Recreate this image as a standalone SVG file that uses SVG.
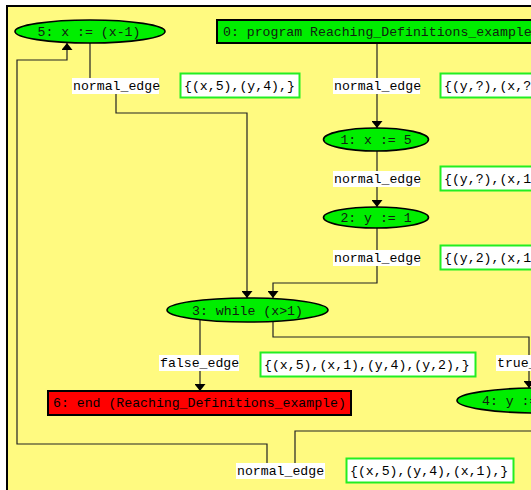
<svg xmlns="http://www.w3.org/2000/svg" width="531" height="490" viewBox="0 0 531 490">
<defs>
<marker id="arr" markerUnits="userSpaceOnUse" markerWidth="8" markerHeight="11" viewBox="0 0 7 11" refX="7" refY="5.5" orient="auto">
<path d="M0 0 L7 5.5 L0 11 Z" fill="#000"/>
</marker>
<style>
text{font-family:"Liberation Mono","DejaVu Sans Mono",monospace;font-size:13.2px;fill:#000}
.ell{fill:#00ee00;stroke:#000;stroke-width:1.6}
.box{fill:#00ee00;stroke:#000;stroke-width:2}
.edge{fill:none;stroke:#222;stroke-width:1.2;marker-end:url(#arr)}
.lbl{fill:#fff}
.set{fill:#fff;stroke:#22ee22;stroke-width:2}
.nt{fill:#102010}
</style>
</defs>
<rect x="0" y="0" width="531" height="490" fill="#fff"/>
<rect x="7" y="6" width="540" height="500" fill="#fffa80" stroke="#000" stroke-width="2"/>
<g id="connectors">
<path class="edge" d="M377 43 V128"/>
<path class="edge" d="M377 151 V207"/>
<path class="edge" d="M377 228 V283 H273 V298"/>
<path class="edge" d="M200 320 V391"/>
<path class="edge" d="M273 321 V337 H529 V388"/>
<path class="edge" d="M90 43 V86 M116 93 V113 H247 V298"/>
<path class="edge" d="M540 431 H295 V470 M267 465 V444 H17 V60 H67 V43"/>
<rect class="lbl" x="72" y="78" width="87" height="16"/><text x="73" y="90">normal_edge</text>
<rect class="set" x="180.5" y="73.5" width="119" height="24"/><text x="184" y="90">{(x,5),(y,4),}</text>
<rect class="lbl" x="333" y="78" width="87" height="16"/><text x="334" y="90">normal_edge</text>
<rect class="set" x="440.5" y="73.5" width="120" height="24"/><text x="444" y="90">{(y,?),(x,?</text>
<rect class="lbl" x="333" y="171" width="87" height="16"/><text x="334" y="183">normal_edge</text>
<rect class="set" x="440.5" y="166.5" width="120" height="24"/><text x="444" y="183">{(y,?),(x,1</text>
<rect class="lbl" x="333" y="250" width="87" height="16"/><text x="334" y="262">normal_edge</text>
<rect class="set" x="440.5" y="245.5" width="120" height="24"/><text x="444" y="262">{(y,2),(x,1</text>
<rect class="lbl" x="159" y="355" width="80" height="16"/><text x="160" y="367">false_edge</text>
<rect class="set" x="260.5" y="352.5" width="215" height="24"/><text x="264" y="369">{(x,5),(x,1),(y,4),(y,2),}</text>
<rect class="lbl" x="496" y="355" width="40" height="16"/><text x="497" y="367">true_</text>
<rect class="lbl" x="236" y="463" width="89" height="16"/><text x="237" y="475">normal_edge</text>
<rect class="set" x="346.5" y="458.5" width="167" height="24"/><text x="350" y="475">{(x,5),(y,4),(x,1),}</text>
</g>
<g id="node0">
<rect class="box" x="217" y="20" width="330" height="23"/>
<text class="nt" x="223" y="36">0: program Reaching_Definitions_example</text>
</g>
<g id="node1">
<ellipse class="ell" cx="376" cy="139.5" rx="52.5" ry="11.5"/>
<text class="nt" x="376" y="144" text-anchor="middle">1: x := 5</text>
</g>
<g id="node2">
<ellipse class="ell" cx="376" cy="217.5" rx="52.5" ry="10.5"/>
<text class="nt" x="376" y="222" text-anchor="middle">2: y := 1</text>
</g>
<g id="node3">
<ellipse class="ell" cx="247.5" cy="310" rx="80.5" ry="12"/>
<text class="nt" x="247.5" y="314.5" text-anchor="middle">3: while (x&gt;1)</text>
</g>
<g id="node4">
<ellipse class="ell" cx="540" cy="400.5" rx="83" ry="12.5"/>
<text class="nt" x="482" y="405">4: y :=</text>
</g>
<g id="node5">
<ellipse class="ell" cx="90" cy="31.5" rx="75" ry="11.5"/>
<text class="nt" x="89" y="36" text-anchor="middle">5: x := (x-1)</text>
</g>
<g id="node6">
<rect x="48" y="391" width="303" height="24" fill="#ff0000" stroke="#000" stroke-width="2"/>
<text x="53" y="407" fill="#300">6: end (Reaching_Definitions_example)</text>
</g>
</svg>
